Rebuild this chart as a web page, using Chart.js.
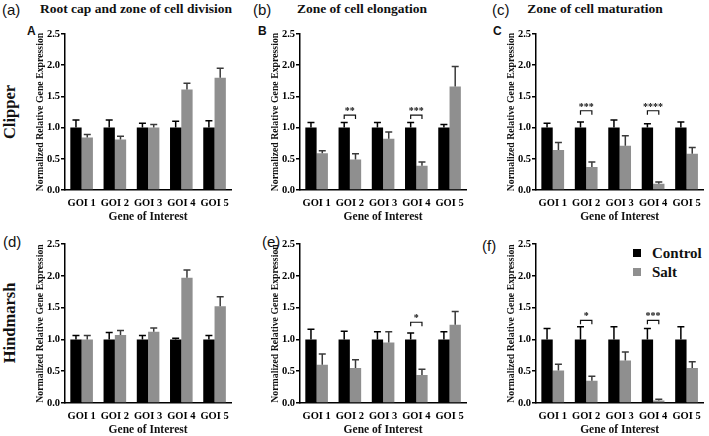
<!DOCTYPE html>
<html>
<head>
<meta charset="utf-8">
<script src="https://cdn.jsdelivr.net/npm/chart.js@4.4.1/dist/chart.umd.min.js"></script>
<style>
  body { margin: 0; background: #fff; }
  #fig { position: relative; width: 709px; height: 436px; overflow: hidden; background: #fff; }
  #fig canvas { position: absolute; }
  .t { position: absolute; white-space: nowrap; color: #111; }
  .serif { font-family: "Liberation Serif", "DejaVu Serif", serif; font-weight: bold; }
  .sans { font-family: "Liberation Sans", Arial, sans-serif; }
  .head { font-size: 13.5px; transform: translate(-50%, -50%); }
  .tag { font-size: 15px; transform: translateY(-50%); }
  .letter { font-size: 12px; font-weight: bold; transform: translateY(-50%); }
  .row { font-size: 16.5px; transform: translate(-50%, -50%) rotate(-90deg); }
  .leg { font-size: 15px; transform: translateY(-50%); font-family: "Liberation Serif", serif; font-weight: bold; }
  .sw { position: absolute; width: 8px; height: 8px; }
</style>
</head>
<body>
<div id="fig">
  <div class="t sans tag" style="left:2px;top:9px">(a)</div>
  <div class="t serif head" style="left:136px;top:9px">Root cap and zone of cell division</div>
  <div class="t sans tag" style="left:253px;top:9px">(b)</div>
  <div class="t serif head" style="left:362px;top:9px">Zone of cell elongation</div>
  <div class="t sans tag" style="left:492px;top:9px">(c)</div>
  <div class="t serif head" style="left:595px;top:9px">Zone of cell maturation</div>
  <div class="t sans letter" style="left:27px;top:31px">A</div>
  <div class="t sans letter" style="left:258px;top:31px">B</div>
  <div class="t sans letter" style="left:493px;top:31px">C</div>
  <div class="t serif row" style="left:10px;top:112px">Clipper</div>
  <div class="t serif row" style="left:10px;top:323px">Hindmarsh</div>
  <div class="t sans tag" style="left:3px;top:241px">(d)</div>
  <div class="t sans tag" style="left:262px;top:241px">(e)</div>
  <div class="t sans tag" style="left:482px;top:245px">(f)</div>
  <div class="sw" style="left:633px;top:249px;background:#000"></div>
  <div class="t leg" style="left:652px;top:253px">Control</div>
  <div class="sw" style="left:633px;top:268px;background:#8f8f8f"></div>
  <div class="t leg" style="left:652px;top:272px">Salt</div>
</div>
<script>
// values (control normalised to 1.0)
var categories = ["GOI 1", "GOI 2", "GOI 3", "GOI 4", "GOI 5"];
var yTicks = [0, 0.5, 1.0, 1.5, 2.0, 2.5];

var ctrlA = [1, 1, 1, 1, 1], ctrlErrA = [0.12, 0.12, 0.07, 0.10, 0.11];
var saltA = [0.84, 0.81, 1.00, 1.61, 1.80], saltErrA = [0.05, 0.05, 0.05, 0.10, 0.15];

var ctrlB = [1, 1, 1, 1, 1], ctrlErrB = [0.08, 0.08, 0.08, 0.08, 0.05];
var saltB = [0.59, 0.49, 0.82, 0.39, 1.66], saltErrB = [0.04, 0.09, 0.11, 0.06, 0.32];

var ctrlC = [1, 1, 1, 1, 1], ctrlErrC = [0.07, 0.09, 0.12, 0.06, 0.09];
var saltC = [0.64, 0.37, 0.71, 0.10, 0.58], saltErrC = [0.12, 0.08, 0.16, 0.03, 0.10];

var ctrlD = [1, 1, 1, 1, 1], ctrlErrD = [0.06, 0.11, 0.06, 0.02, 0.06];
var saltD = [1.00, 1.07, 1.12, 1.97, 1.52], saltErrD = [0.06, 0.07, 0.06, 0.12, 0.15];

var ctrlE = [1, 1, 1, 1, 1], ctrlErrE = [0.16, 0.13, 0.12, 0.10, 0.12];
var saltE = [0.60, 0.55, 0.95, 0.44, 1.23], saltErrE = [0.17, 0.13, 0.17, 0.09, 0.21];

var ctrlF = [1, 1, 1, 1, 1], ctrlErrF = [0.17, 0.20, 0.20, 0.17, 0.20];
var saltF = [0.51, 0.35, 0.67, 0.04, 0.55], saltErrF = [0.10, 0.07, 0.13, 0.02, 0.10];

// significance brackets: category index, bracket height, stars
var sigB = [{ i: 1, y: 1.20, t: "**" }, { i: 3, y: 1.20, t: "***" }];
var sigC = [{ i: 1, y: 1.27, t: "***" }, { i: 3, y: 1.27, t: "****" }];
var sigE = [{ i: 3, y: 1.27, t: "*" }];
var sigF = [{ i: 1, y: 1.30, t: "*" }, { i: 3, y: 1.30, t: "***" }];

var SERIF = '"Liberation Serif", "DejaVu Serif", serif';
var BLACK = "#000000", GREY = "#8f8f8f";

// T-shaped error bars above each bar
var errBars = {
  id: "errBars",
  afterDatasetsDraw: function(chart) {
    var ctx = chart.ctx, ys = chart.scales.y;
    chart.data.datasets.forEach(function(ds, di) {
      var meta = chart.getDatasetMeta(di);
      meta.data.forEach(function(bar, k) {
        var top = ys.getPixelForValue(ds.data[k] + ds.err[k]);
        ctx.save();
        ctx.strokeStyle = ds.errColor;
        ctx.lineWidth = 1.5;
        ctx.beginPath();
        ctx.moveTo(bar.x, bar.y);
        ctx.lineTo(bar.x, top);
        ctx.moveTo(bar.x - 3.5, top);
        ctx.lineTo(bar.x + 3.5, top);
        ctx.stroke();
        ctx.restore();
      });
    });
  }
};

// bracket + stars between control and salt bars
var sigMarks = {
  id: "sigMarks",
  afterDatasetsDraw: function(chart) {
    var list = chart.config._config.sig || [];
    var ctx = chart.ctx, ys = chart.scales.y;
    list.forEach(function(s) {
      var b0 = chart.getDatasetMeta(0).data[s.i];
      var b1 = chart.getDatasetMeta(1).data[s.i];
      var y = ys.getPixelForValue(s.y);
      ctx.save();
      ctx.strokeStyle = "#111";
      ctx.lineWidth = 1.2;
      ctx.beginPath();
      ctx.moveTo(b0.x, y + 4);
      ctx.lineTo(b0.x, y);
      ctx.lineTo(b1.x, y);
      ctx.lineTo(b1.x, y + 4);
      ctx.stroke();
      ctx.fillStyle = "#111";
      ctx.font = "bold 10px " + SERIF;
      ctx.textAlign = "center";
      ctx.textBaseline = "alphabetic";
      ctx.fillText(s.t, (b0.x + b1.x) / 2, y - 1);
      ctx.restore();
    });
  }
};

function makePanel(left, top, right, bottom, ctrl, ctrlErr, salt, saltErr, sig) {
  var yW = 30, padTop = 8, xH = 34, padRight = 3;
  var cv = document.createElement("canvas");
  var w = (right - left) + yW + padRight;
  var h = padTop + (bottom - top) + xH;
  cv.width = w; cv.height = h;
  cv.style.left = (left - yW) + "px";
  cv.style.top = (top - padTop) + "px";
  cv.style.width = w + "px"; cv.style.height = h + "px";
  document.getElementById("fig").appendChild(cv);
  new Chart(cv.getContext("2d"), {
    type: "bar",
    data: {
      labels: categories,
      datasets: [
        { label: "Control", data: ctrl, err: ctrlErr, errColor: "#000", backgroundColor: BLACK,
          categoryPercentage: 0.68, barPercentage: 1.0 },
        { label: "Salt", data: salt, err: saltErr, errColor: "#3a3a3a", backgroundColor: GREY,
          categoryPercentage: 0.68, barPercentage: 1.0 }
      ]
    },
    sig: sig,
    plugins: [errBars, sigMarks],
    options: {
      responsive: false,
      animation: false,
      devicePixelRatio: 1,
      layout: { padding: { top: padTop, right: padRight, left: 0, bottom: 0 } },
      plugins: { legend: { display: false }, tooltip: { enabled: false } },
      scales: {
        x: {
          grid: { display: false, drawTicks: false },
          border: { display: true, color: "#000", width: 1.5 },
          ticks: { color: "#000", padding: 7, maxRotation: 0, minRotation: 0, autoSkip: false,
                   font: { family: SERIF, size: 10.5, weight: "bold" } },
          title: { display: true, text: "Gene of Interest", color: "#111", padding: 0,
                   font: { family: SERIF, size: 11.5, weight: "bold" } },
          afterFit: function(s) { s.height = xH; }
        },
        y: {
          min: 0, max: 2.5,
          afterBuildTicks: function(s) { s.ticks = yTicks.map(function(v) { return { value: v }; }); },
          grid: { display: true, drawOnChartArea: false, drawTicks: true, tickLength: 4, color: "#000", lineWidth: 1.5 },
          border: { display: true, color: "#000", width: 1.5 },
          ticks: { color: "#000", padding: 1, font: { family: SERIF, size: 10.5, weight: "bold" },
                   callback: function(v) { return Number(v).toFixed(1); } },
          title: { display: true, text: "Normalized Relative Gene Expression", color: "#111", padding: 0,
                   font: { family: SERIF, size: 9.8, weight: "bold" } },
          afterFit: function(s) { s.width = yW; }
        }
      }
    }
  });
}

makePanel(65, 34, 233, 190, ctrlA, ctrlErrA, saltA, saltErrA, []);
makePanel(300, 34, 468, 190, ctrlB, ctrlErrB, saltB, saltErrB, sigB);
makePanel(536, 34, 705, 190, ctrlC, ctrlErrC, saltC, saltErrC, sigC);
makePanel(65, 244, 233, 403, ctrlD, ctrlErrD, saltD, saltErrD, []);
makePanel(300, 244, 468, 403, ctrlE, ctrlErrE, saltE, saltErrE, sigE);
makePanel(536, 244, 705, 403, ctrlF, ctrlErrF, saltF, saltErrF, sigF);
</script>
</body>
</html>
